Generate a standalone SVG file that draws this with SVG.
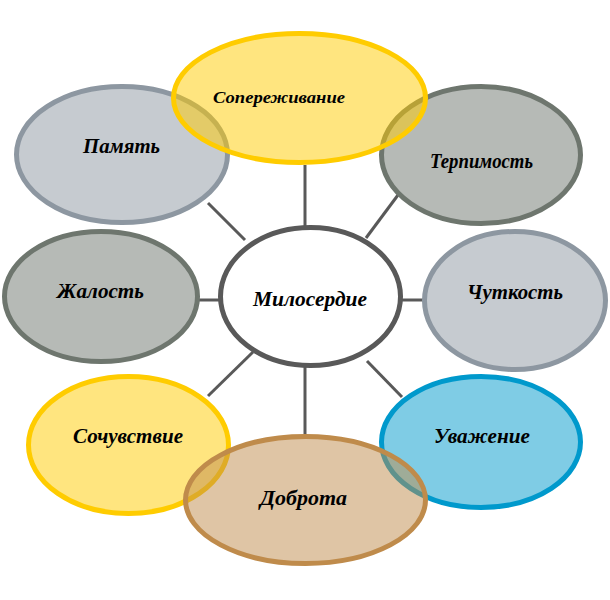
<svg xmlns="http://www.w3.org/2000/svg" width="610" height="600" viewBox="0 0 610 600">
<style>
.lbl{font-family:"Liberation Serif","Times New Roman",serif;font-weight:bold;font-style:italic;font-size:20px;fill:#000;text-anchor:middle}
.n{stroke-width:5;fill-opacity:0.5}
.y{stroke:#FFCC00;fill:#FFCC00}
.g{stroke:#8D97A1;fill:#8D97A1}
.d{stroke:#6E766E;fill:#6E766E}
.b{stroke:#0099CC;fill:#0099CC}
.t{stroke:#BF8B4B;fill:#BF8B4B}
.c{stroke:#595959;stroke-width:3;fill:none}
</style>
<rect width="610" height="600" fill="#fff"/>
<g id="connectors" class="c">
<line x1="305" y1="165" x2="305" y2="226"/>
<line x1="305" y1="367" x2="305" y2="434"/>
<line x1="199" y1="300" x2="219" y2="300"/>
<line x1="402" y1="300" x2="423" y2="300"/>
<line x1="208" y1="203" x2="245" y2="240"/>
<line x1="398" y1="195" x2="366" y2="238"/>
<line x1="253" y1="352" x2="208" y2="396"/>
<line x1="367" y1="361" x2="402" y2="397"/>
</g>
<g id="pamyat"><ellipse class="n g" cx="122" cy="154.5" rx="105.5" ry="68"/><text class="lbl" x="121.5" y="153" textLength="77" lengthAdjust="spacingAndGlyphs">Память</text></g>
<g id="terpimost"><ellipse class="n d" cx="481" cy="155" rx="99.5" ry="68.5"/><text class="lbl" x="481.5" y="168" textLength="103" lengthAdjust="spacingAndGlyphs">Терпимость</text></g>
<g id="soperezhivanie"><ellipse class="n y" cx="299.5" cy="98" rx="126" ry="64.5"/><text class="lbl" x="279" y="103" style="font-size:17px" textLength="132" lengthAdjust="spacingAndGlyphs">Сопереживание</text></g>
<g id="zhalost"><ellipse class="n d" cx="101" cy="296.5" rx="96.5" ry="65"/><text class="lbl" x="100.5" y="298" textLength="87" lengthAdjust="spacingAndGlyphs">Жалость</text></g>
<g id="chutkost"><ellipse class="n g" cx="515" cy="300.5" rx="90.5" ry="69"/><text class="lbl" x="515" y="299" textLength="96" lengthAdjust="spacingAndGlyphs">Чуткость</text></g>
<g id="miloserdie"><ellipse cx="310.5" cy="296.5" rx="90" ry="69" fill="#fff" stroke="#595959" stroke-width="5"/><text class="lbl" x="310" y="306" textLength="114" lengthAdjust="spacingAndGlyphs">Милосердие</text></g>
<g id="sochuvstvie"><ellipse class="n y" cx="128.5" cy="445" rx="100" ry="68.5"/><text class="lbl" x="128" y="443" textLength="110" lengthAdjust="spacingAndGlyphs">Сочувствие</text></g>
<g id="uvazhenie"><ellipse class="n b" cx="481" cy="442" rx="99.5" ry="65.5"/><text class="lbl" x="482" y="443" textLength="96" lengthAdjust="spacingAndGlyphs">Уважение</text></g>
<g id="dobrota"><ellipse class="n t" cx="305.5" cy="500" rx="120" ry="63.5"/><text class="lbl" x="303.5" y="505" textLength="87" lengthAdjust="spacingAndGlyphs">Доброта</text></g>
</svg>
